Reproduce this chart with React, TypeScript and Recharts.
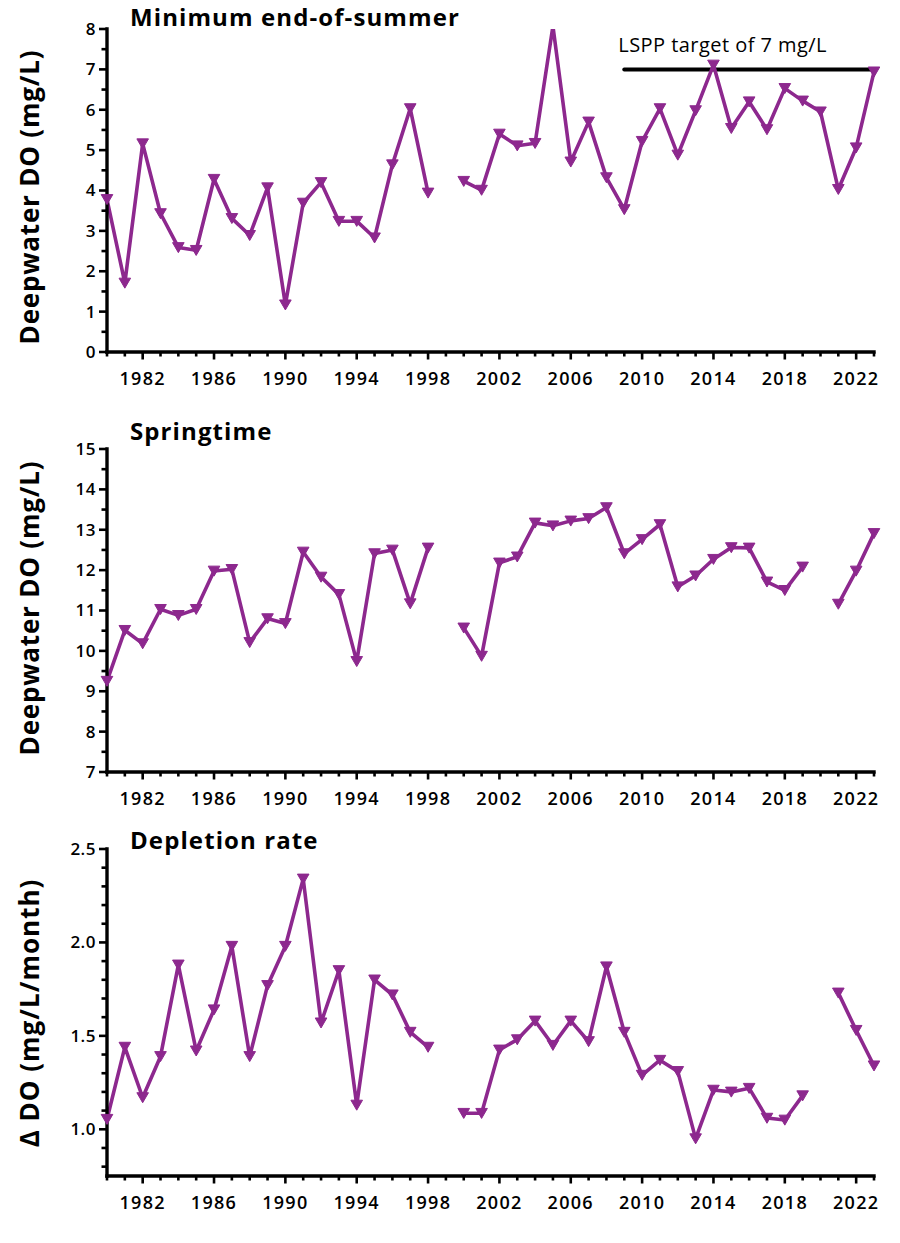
import React from 'react';
import { LineChart, Line, XAxis, YAxis, ReferenceLine, Label } from 'recharts';

const years = [
  1980, 1981, 1982, 1983, 1984, 1985, 1986, 1987, 1988, 1989,
  1990, 1991, 1992, 1993, 1994, 1995, 1996, 1997, 1998, 1999,
  2000, 2001, 2002, 2003, 2004, 2005, 2006, 2007, 2008, 2009,
  2010, 2011, 2012, 2013, 2014, 2015, 2016, 2017, 2018, 2019,
  2020, 2021, 2022, 2023,
];

const minSummerDO: (number | null)[] = [
  3.78, 1.71, 5.16, 3.43, 2.59, 2.52, 4.28, 3.31, 2.89, 4.07,
  1.17, 3.69, 4.2, 3.24, 3.24, 2.83, 4.64, 6.03, 3.94, null,
  4.23, 4.01, 5.4, 5.11, 5.17, 8.07, 4.71, 5.7, 4.32, 3.53,
  5.22, 6.03, 4.88, 5.98, 7.11, 5.54, 6.2, 5.51, 6.53, 6.22,
  5.95, 4.03, 5.06, 6.94,
];

const springDO: (number | null)[] = [
  9.25, 10.51, 10.18, 11.03, 10.88, 11.03, 11.98, 12.02, 10.21, 10.8,
  10.68, 12.45, 11.83, 11.4, 9.74, 12.41, 12.5, 11.17, 12.55, null,
  10.57, 9.87, 12.18, 12.33, 13.17, 13.1, 13.22, 13.28, 13.55, 12.41,
  12.76, 13.13, 11.59, 11.86, 12.27, 12.56, 12.55, 11.71, 11.5, 12.08,
  null, 11.16, 11.98, 12.91,
];

const depletionRate: (number | null)[] = [
  1.054, 1.44, 1.17, 1.39, 1.88, 1.42, 1.64, 1.98, 1.39, 1.77,
  1.98, 2.34, 1.57, 1.85, 1.13, 1.8, 1.72, 1.52, 1.44, null,
  1.086, 1.086, 1.425, 1.48, 1.58, 1.45, 1.58, 1.47, 1.87, 1.52,
  1.29, 1.37, 1.31, 0.95, 1.21, 1.2, 1.22, 1.06, 1.05, 1.18,
  null, 1.73, 1.53, 1.34,
];

const xTickLabels = [1982, 1986, 1990, 1994, 1998, 2002, 2006, 2010, 2014, 2018, 2022];

const yTicksSummer = [0, 0.5, 1, 1.5, 2, 2.5, 3, 3.5, 4, 4.5, 5, 5.5, 6, 6.5, 7, 7.5, 8];
const yLabelsSummer = [0, 1, 2, 3, 4, 5, 6, 7, 8];

const yTicksSpring = [7, 7.5, 8, 8.5, 9, 9.5, 10, 10.5, 11, 11.5, 12, 12.5, 13, 13.5, 14, 14.5, 15];
const yLabelsSpring = [7, 8, 9, 10, 11, 12, 13, 14, 15];

const yTicksDepletion = [0.8, 0.9, 1.0, 1.1, 1.2, 1.3, 1.4, 1.5, 1.6, 1.7, 1.8, 1.9, 2.0, 2.1, 2.2, 2.3, 2.4, 2.5];
const yLabelsDepletion = [1.0, 1.5, 2.0, 2.5];

const targetValue = 7;
const targetStartYear = 2009;
const targetEndYear = 2023;
const targetLabel = 'LSPP target of 7 mg/L';

const PURPLE = '#8D288E';
const FONT = "'Open Sans', 'Noto Sans', sans-serif";
const CHART_W = 884;
const AXIS_X = 99;

const toData = (vals: (number | null)[]) => years.map((year, i) => ({ year, value: vals[i] }));

const TriangleDot = (props: any) => {
  const { cx, cy, index } = props;
  if (cx == null || cy == null || props.value == null) return <g key={`d${index}`} />;
  const w = 5.8;
  return (
    <path
      key={`d${index}`}
      d={`M${cx - w},${cy - 4.8} L${cx + w},${cy - 4.8} L${cx},${cy + 5.2} Z`}
      fill={PURPLE}
      stroke={PURPLE}
      strokeWidth={1}
      strokeLinejoin="round"
    />
  );
};

const makeXTick = (labels: number[]) => (props: any) => {
  const { x, y, payload } = props;
  const major = labels.indexOf(payload.value) >= 0;
  return (
    <g>
      <line x1={x} x2={x} y1={y} y2={y + (major ? 7.5 : 4.5)} stroke="#000" strokeWidth={2.6} />
      {major && (
        <text
          x={x}
          y={y + 27}
          dy="0.35em"
          textAnchor="middle"
          fontFamily={FONT}
          fontWeight={600}
          fontSize={18}
          letterSpacing={1.3}
          fill="#000"
        >
          {payload.value}
        </text>
      )}
    </g>
  );
};

const makeYTick = (labels: number[], fmt: (v: number) => string) => (props: any) => {
  const { x, y, payload } = props;
  const major = labels.some((l) => Math.abs(l - payload.value) < 1e-6);
  return (
    <g>
      <line x1={x - (major ? 8 : 5.5)} x2={x} y1={y} y2={y} stroke="#000" strokeWidth={2.6} />
      {major && (
        <text
          x={x - 11}
          y={y}
          dy="0.35em"
          textAnchor="end"
          fontFamily={FONT}
          fontWeight={600}
          fontSize={17}
          letterSpacing={0.5}
          fill="#000"
        >
          {fmt(payload.value)}
        </text>
      )}
    </g>
  );
};

const renderTargetLabel = (props: any) => {
  const vb = props.viewBox || {};
  return (
    <text
      x={(vb.x ?? 0) - 6}
      y={(vb.y ?? 0) - 17}
      textAnchor="start"
      fontFamily={FONT}
      fontWeight={500}
      fontSize={20}
      letterSpacing={0.45}
      fill="#000"
    >
      {targetLabel}
    </text>
  );
};

type PanelProps = {
  data: { year: number; value: number | null }[];
  height: number;
  top: number;
  bottom: number;
  domain: [number, number];
  yTicks: number[];
  yLabels: number[];
  fmt: (v: number) => string;
  title: string;
  titleY: number;
  yLabel: string;
  yLabelCenter: number;
  yLabelSpacing: number;
  children?: React.ReactNode;
};

const Panel = (p: PanelProps) => (
  <div style={{ position: 'relative', width: CHART_W, height: p.height }}>
    <LineChart
      width={CHART_W}
      height={p.height}
      data={p.data}
      margin={{ top: p.top, right: 18, left: 0, bottom: p.bottom }}
    >
      <XAxis
        dataKey="year"
        type="number"
        domain={[1980, 2023]}
        ticks={years}
        interval={0}
        allowDecimals={false}
        height={40}
        tickSize={0}
        tickMargin={0}
        tickLine={false}
        axisLine={{ stroke: '#000', strokeWidth: 3.4, strokeLinecap: 'square' }}
        tick={makeXTick(xTickLabels)}
      />
      <YAxis
        type="number"
        domain={p.domain}
        ticks={p.yTicks}
        interval={0}
        width={AXIS_X}
        tickSize={0}
        tickMargin={0}
        tickLine={false}
        allowDataOverflow
        axisLine={{ stroke: '#000', strokeWidth: 3.4, strokeLinecap: 'square' }}
        tick={makeYTick(p.yLabels, p.fmt)}
      />
      {p.children}
      <Line
        dataKey="value"
        stroke={PURPLE}
        strokeWidth={3.6}
        strokeLinejoin="round"
        dot={TriangleDot}
        activeDot={false}
        isAnimationActive={false}
        connectNulls={false}
      />
    </LineChart>
    <svg
      width={CHART_W}
      height={p.height}
      style={{ position: 'absolute', left: 0, top: 0, pointerEvents: 'none', overflow: 'visible' }}
    >
      <text x={AXIS_X + 23} y={p.titleY} fontFamily={FONT} fontWeight={700} fontSize={24} letterSpacing={1.1} fill="#000">
        {p.title}
      </text>
      <text
        transform={`translate(31, ${p.yLabelCenter}) rotate(-90)`}
        textAnchor="middle"
        fontFamily={FONT}
        fontWeight={700}
        fontSize={26}
        letterSpacing={p.yLabelSpacing}
        fill="#000"
      >
        {p.yLabel}
      </text>
    </svg>
  </div>
);

export default function App() {
  return (
    <div style={{ width: CHART_W, background: '#fff' }}>
      <Panel
        data={toData(minSummerDO)}
        height={400}
        top={21}
        bottom={16}
        domain={[0, 8]}
        yTicks={yTicksSummer}
        yLabels={yLabelsSummer}
        fmt={(v) => String(v)}
        title="Minimum end-of-summer"
        titleY={18}
        yLabel="Deepwater DO (mg/L)"
        yLabelCenter={189}
        yLabelSpacing={0.8}
      >
        <ReferenceLine
          segment={[
            { x: targetStartYear, y: targetValue },
            { x: targetEndYear, y: targetValue },
          ]}
          stroke="#000"
          strokeWidth={4}
          strokeLinecap="round"
          ifOverflow="visible"
          label={<Label content={renderTargetLabel} />}
        />
      </Panel>
      <Panel
        data={toData(springDO)}
        height={420}
        top={41}
        bottom={16}
        domain={[7, 15]}
        yTicks={yTicksSpring}
        yLabels={yLabelsSpring}
        fmt={(v) => String(v)}
        title="Springtime"
        titleY={32}
        yLabel="Deepwater DO (mg/L)"
        yLabelCenter={200}
        yLabelSpacing={0.8}
      />
      <Panel
        data={toData(depletionRate)}
        height={400}
        top={21}
        bottom={12}
        domain={[0.75, 2.5]}
        yTicks={yTicksDepletion}
        yLabels={yLabelsDepletion}
        fmt={(v) => v.toFixed(1)}
        title="Depletion rate"
        titleY={21}
        yLabel="Δ DO (mg/L/month)"
        yLabelCenter={185}
        yLabelSpacing={1}
      />
    </div>
  );
}
